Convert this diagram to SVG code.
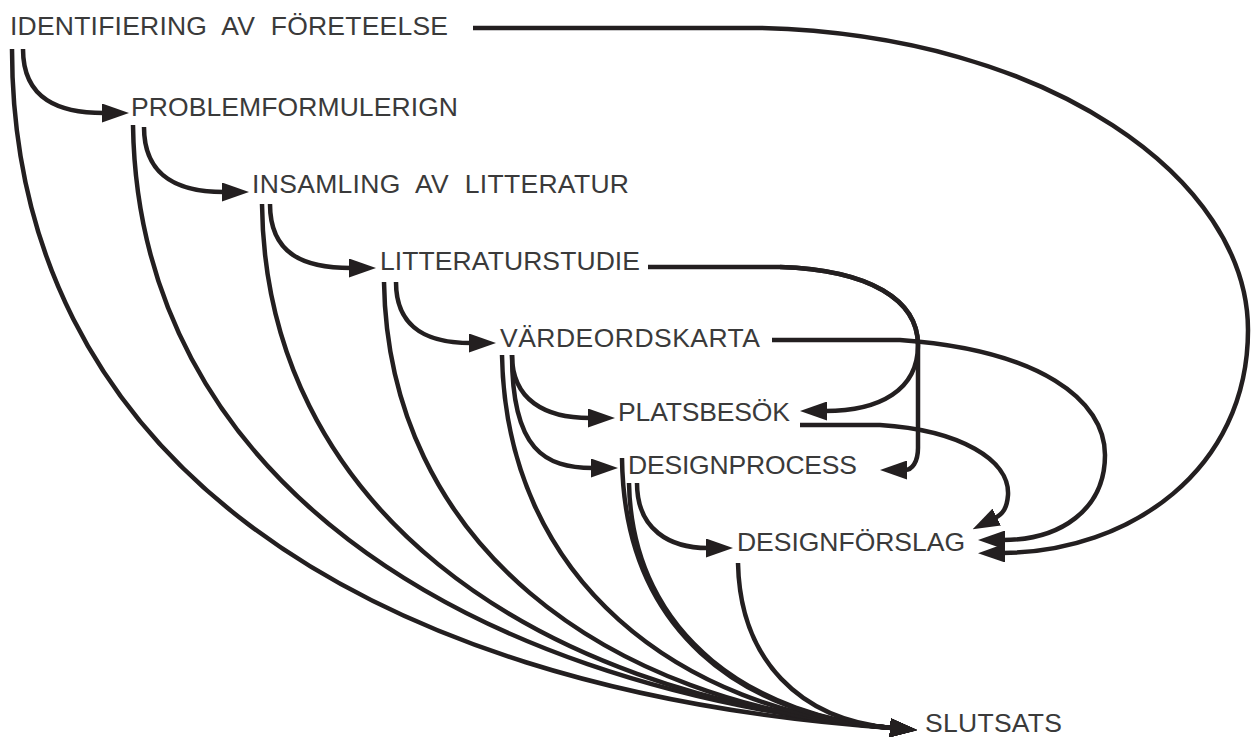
<svg xmlns="http://www.w3.org/2000/svg" width="1252" height="738" viewBox="0 0 1252 738">
<style>
.t{font-family:"Liberation Sans",Arial,sans-serif;font-size:26.5px;fill:#3a3a3a;word-spacing:8px}
.c{fill:none;stroke:#231f20;stroke-width:4.5;marker-end:url(#ah)}
</style>
<defs>
<marker id="ah" viewBox="0 0 27 19" refX="2" refY="9.5" markerWidth="27" markerHeight="19" markerUnits="userSpaceOnUse" orient="auto">
<path d="M0,0 L27,9.5 L0,19 Z" fill="#231f20"/>
</marker>
</defs>
<rect width="1252" height="738" fill="#ffffff"/>
<g id="connectors">
<path class="c" d="M473,28 L760,28 C1050,35 1248,180 1248,330 C1248,470 1130,552 1003,553"/>
<path class="c" d="M23,49 C23,100 60,113 104,113"/>
<path class="c" d="M12,49 C12,450 350,690 892,728"/>
<path class="c" d="M144,127 C144,178 180,192 224,192"/>
<path class="c" d="M133,125 C138,470 450,685 892,728"/>
<path class="c" d="M270,204 C270,255 305,268 351,268"/>
<path class="c" d="M262,204 C265,500 520,695 892,728"/>
<path class="c" d="M396,282 C396,330 430,343 471,343"/>
<path class="c" d="M384,282 C388,540 600,705 892,728"/>
<path class="c" d="M648,267 L780,267 C870,270 918,300 918,345 C918,390 880,411 825,411"/>
<path class="c" d="M780,267 C870,270 918,300 918,345 L918,448 C918,462 912,470 905,470"/>
<path class="c" d="M772,340 L900,340 C1040,350 1105,400 1105,455 C1105,510 1060,540 1003,540"/>
<path class="c" d="M512,355 C512,400 545,418 590,418"/>
<path class="c" d="M512,355 C512,450 545,468 593,468"/>
<path class="c" d="M502,355 C506,580 680,712 892,728"/>
<path class="c" d="M800,425 L880,425 C960,430 1010,460 1008,495 C1007,508 1003,514 995,518"/>
<path class="c" d="M637,483 C637,530 670,548 708,548"/>
<path class="c" d="M629,483 C632,640 760,718 892,728"/>
<path class="c" d="M622,458 C624,630 740,716 892,728"/>
<path class="c" d="M738,563 C740,660 800,720 892,728"/>
</g>
<g id="n-identifiering"><text class="t" x="10" y="35" textLength="438">IDENTIFIERING AV FÖRETEELSE</text></g>
<g id="n-problem"><text class="t" x="131" y="116" textLength="327">PROBLEMFORMULERIGN</text></g>
<g id="n-insamling"><text class="t" x="252" y="193" textLength="377">INSAMLING AV LITTERATUR</text></g>
<g id="n-litteraturstudie"><text class="t" x="380" y="270" textLength="260">LITTERATURSTUDIE</text></g>
<g id="n-vardeordskarta"><text class="t" x="500" y="347" textLength="260">VÄRDEORDSKARTA</text></g>
<g id="n-platsbesok"><text class="t" x="618" y="421" textLength="172">PLATSBESÖK</text></g>
<g id="n-designprocess"><text class="t" x="628" y="474" textLength="229">DESIGNPROCESS</text></g>
<g id="n-designforslag"><text class="t" x="737" y="551" textLength="228">DESIGNFÖRSLAG</text></g>
<g id="n-slutsats"><text class="t" x="925" y="732" textLength="137">SLUTSATS</text></g>
</svg>
